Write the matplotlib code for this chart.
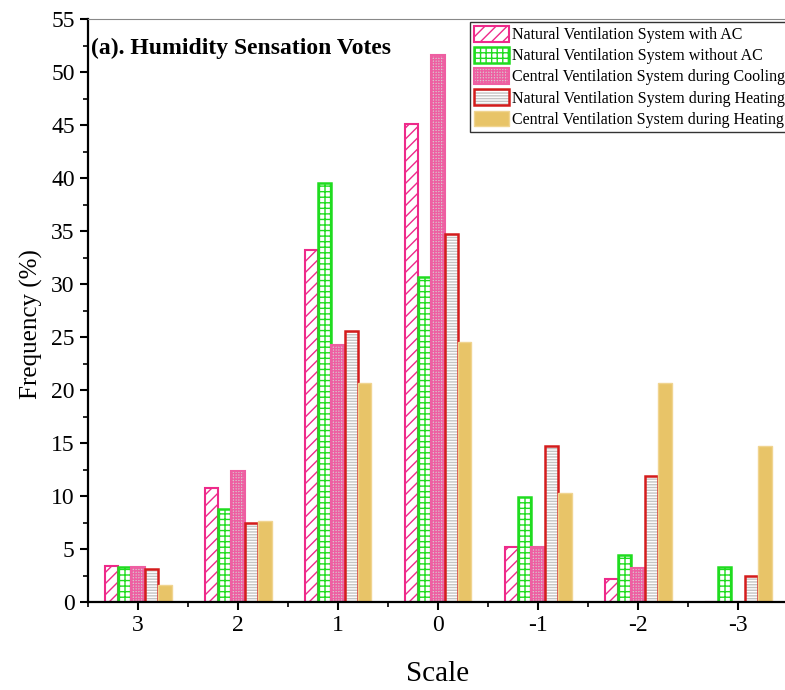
import numpy as np
import matplotlib
matplotlib.use("Agg")
import matplotlib.pyplot as plt
from matplotlib.ticker import MultipleLocator

plt.rcParams['font.family'] = ['Liberation Serif', 'DejaVu Serif']
plt.rcParams['hatch.linewidth'] = 1.0

scale = ["3", "2", "1", "0", "-1", "-2", "-3"]
series = ["Natural Ventilation System with AC",
          "Natural Ventilation System without AC",
          "Central Ventilation System during Cooling",
          "Natural Ventilation System during Heating",
          "Central Ventilation System during Heating"]

nv_ac = [3.4, 10.8, 33.2, 45.1, 5.2, 2.2, 0.0]
nv_noac = [3.3, 8.8, 39.5, 30.7, 9.9, 4.4, 3.3]
cv_cool = [3.3, 12.4, 24.2, 51.6, 5.2, 3.2, 0.0]
nv_heat = [3.1, 7.5, 25.6, 34.7, 14.7, 11.9, 2.5]
cv_heat = [1.6, 7.6, 20.7, 24.5, 10.3, 20.7, 14.7]

fig = plt.figure(figsize=(7.85, 6.9), dpi=100)
ax = fig.add_axes([88/785, 88/690, 700/785, (602-19)/690])

x = np.arange(len(scale))
w = 0.134

b1 = ax.bar(x - 2*w, nv_ac, w, facecolor='white', edgecolor='#ee2a8a', hatch='///', linewidth=1.5)
b2 = ax.bar(x - w, nv_noac, w, facecolor='white', edgecolor='#1fdc1f', hatch='+++', linewidth=1.8)
b3 = ax.bar(x, cv_cool, w, facecolor='#d8c6cd', edgecolor='#ee5fa2', hatch='++++++', linewidth=1.5)
# red outline with grey line fill: hatch layer + outline layer
b4a = ax.bar(x + w, nv_heat, w, facecolor='white', edgecolor='#c4c4c4', hatch='------', linewidth=0)
b4b = ax.bar(x + w, nv_heat, w, facecolor='none', edgecolor='#d41c1c', linewidth=1.8)
b5 = ax.bar(x + 2*w, cv_heat, w, facecolor='#e8c468', edgecolor='#f0d490', linewidth=1.0)

ax.set_xlim(-0.5, 6.5)
ax.set_ylim(0, 55)
ax.set_xticks(x)
ax.set_xticklabels(scale)
ax.xaxis.set_minor_locator(MultipleLocator(0.5))
ax.yaxis.set_major_locator(MultipleLocator(5))
ax.yaxis.set_minor_locator(MultipleLocator(2.5))
ax.tick_params(axis='both', which='major', direction='out', length=6, width=1.5, labelsize=17)
ax.tick_params(axis='both', which='minor', direction='out', length=3.5, width=1.2)
ax.tick_params(top=False, right=False, which='both')

ax.spines['left'].set_linewidth(1.6)
ax.spines['bottom'].set_linewidth(1.6)
ax.spines['top'].set_color('#888888')
ax.spines['top'].set_linewidth(0.8)
ax.spines['right'].set_visible(False)

ax.set_ylabel("Frequency (%)", fontsize=18)
ax.yaxis.set_label_coords(-0.064, 0.477)
ax.set_xlabel("Scale", fontsize=21, labelpad=18)

ax.text(0.004, 0.95, "(a). Humidity Sensation Votes", transform=ax.transAxes,
        fontsize=17, fontweight='bold', va='center', ha='left')

handles = [b1[0], b2[0], b3[0], (b4a[0], b4b[0]), b5[0]]
leg = ax.legend(handles, series, loc='upper right', bbox_to_anchor=(1.006, 1.0),
                fontsize=11.5, frameon=True, fancybox=False, edgecolor='black',
                handlelength=2.2, handleheight=1.1, borderaxespad=0.2,
                labelspacing=0.25, handletextpad=0.2, borderpad=0.25)
leg.get_frame().set_linewidth(1.0)

fig.savefig("out.png", dpi=100)
